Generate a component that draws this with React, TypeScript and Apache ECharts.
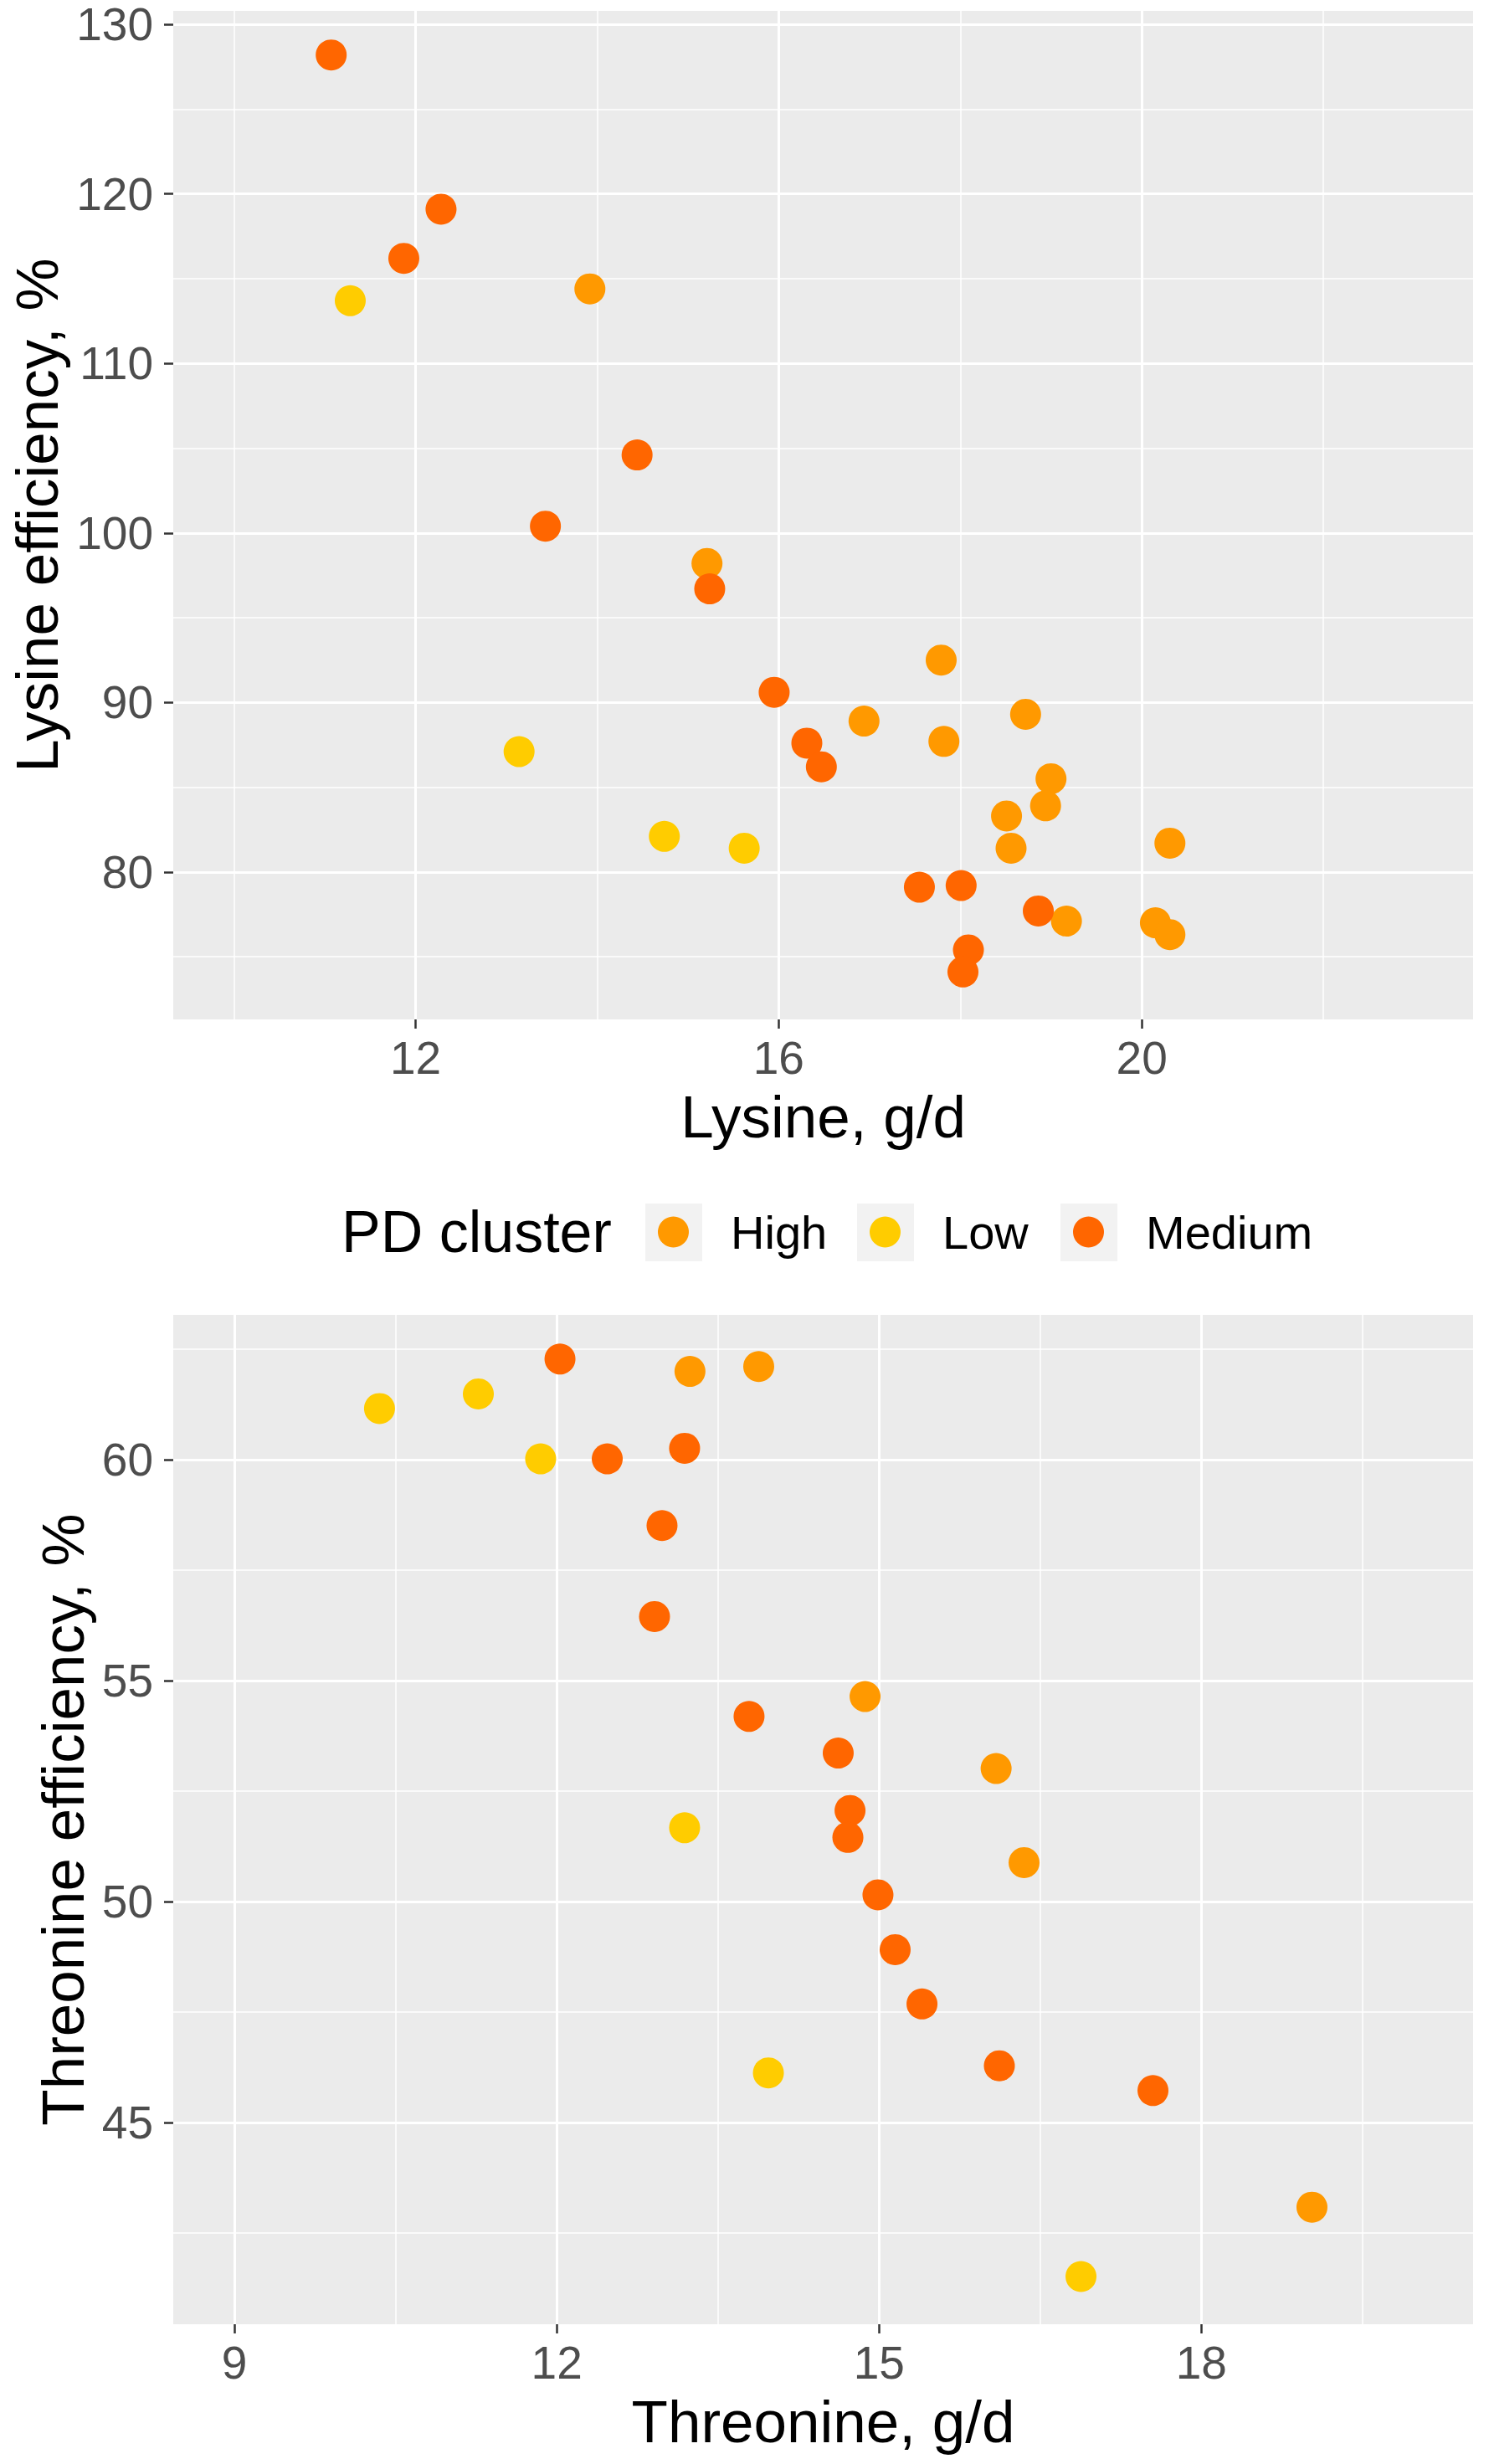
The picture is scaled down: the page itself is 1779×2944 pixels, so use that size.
import * as React from "react";
import * as echarts from "echarts";

// PD cluster colours
const HIGH = "#FF9900";
const LOW = "#FFCC00";
const MEDIUM = "#FF6600";
const FONT = "Liberation Sans, Arial, sans-serif";

const clusters = ["High", "Low", "Medium"];

// top panel: [lysine g/d, lysine efficiency %]
const lysineHigh: [number, number][] = [
  [13.92, 114.4], [15.21, 98.2], [17.79, 92.5], [16.94, 88.9], [17.82, 87.7],
  [18.72, 89.3], [19.0, 85.5], [18.94, 83.9], [18.51, 83.3], [18.56, 81.4],
  [20.31, 81.7], [19.17, 77.1], [20.15, 77.0], [20.31, 76.3],
];
const lysineLow: [number, number][] = [
  [11.28, 113.7], [13.14, 87.1], [14.74, 82.1], [15.62, 81.4],
];
const lysineMedium: [number, number][] = [
  [11.07, 128.2], [12.28, 119.1], [11.87, 116.2], [14.44, 104.6], [13.43, 100.4],
  [15.24, 96.7], [15.95, 90.6], [16.31, 87.6], [16.47, 86.2], [17.55, 79.1],
  [18.01, 79.2], [18.86, 77.7], [18.09, 75.4], [18.03, 74.1],
];

// bottom panel: [threonine g/d, threonine efficiency %]
const threonineHigh: [number, number][] = [
  [13.24, 62.0], [13.88, 62.11], [14.87, 54.64], [16.09, 53.01], [16.35, 50.88],
  [19.03, 43.08],
];
const threonineLow: [number, number][] = [
  [10.35, 61.16], [11.27, 61.49], [11.85, 60.02], [13.19, 51.67], [13.97, 46.12],
  [16.88, 41.51],
];
const threonineMedium: [number, number][] = [
  [12.03, 62.28], [12.47, 60.02], [13.19, 60.26], [12.98, 58.51], [12.91, 56.45],
  [13.79, 54.19], [14.62, 53.36], [14.73, 52.06], [14.71, 51.45], [14.99, 50.15],
  [15.15, 48.91], [15.4, 47.68], [16.12, 46.28], [17.55, 45.72],
];

// axis breaks
const lysXMajor = [12, 16, 20];
const lysXMinor = [10, 14, 18, 22];
const lysYMajor = [80, 90, 100, 110, 120, 130];
const lysYMinor = [75, 85, 95, 105, 115, 125];
const thrXMajor = [9, 12, 15, 18];
const thrXMinor = [10.5, 13.5, 16.5, 19.5];
const thrYMajor = [45, 50, 55, 60];
const thrYMinor = [42.5, 47.5, 52.5, 57.5, 62.5];

const gridLines = (xMaj: number[], xMin: number[], yMaj: number[], yMin: number[]) => ({
  silent: true,
  z: 1,
  symbol: ["none", "none"],
  label: { show: false },
  emphasis: { disabled: true },
  animation: false,
  data: [
    ...xMin.map((v) => ({ xAxis: v, lineStyle: { color: "#FFFFFF", width: 1.5, type: "solid" } })),
    ...yMin.map((v) => ({ yAxis: v, lineStyle: { color: "#FFFFFF", width: 1.5, type: "solid" } })),
    ...xMaj.map((v) => ({ xAxis: v, lineStyle: { color: "#FFFFFF", width: 3, type: "solid" } })),
    ...yMaj.map((v) => ({ yAxis: v, lineStyle: { color: "#FFFFFF", width: 3, type: "solid" } })),
  ],
});

const xAxisOf = (min: number, max: number, ticks: number[], name: string, gridIndex: number) => ({
  type: "value",
  gridIndex,
  min,
  max,
  name,
  nameLocation: "middle",
  nameGap: 81,
  nameTextStyle: { fontSize: 71, color: "#000000", fontFamily: FONT },
  axisLine: { show: false },
  axisTick: { show: true, length: 11, customValues: ticks, lineStyle: { color: "#333333", width: 2.5 } },
  axisLabel: { customValues: ticks, fontSize: 55, color: "#4D4D4D", margin: 18, fontFamily: FONT },
  splitLine: { show: false },
});

const yAxisOf = (min: number, max: number, ticks: number[], name: string, gridIndex: number, gap: number) => ({
  type: "value",
  gridIndex,
  min,
  max,
  name,
  nameLocation: "middle",
  nameGap: gap,
  nameTextStyle: { fontSize: 71, color: "#000000", fontFamily: FONT },
  axisLine: { show: false },
  axisTick: { show: true, length: 11, customValues: ticks, lineStyle: { color: "#333333", width: 2.5 } },
  axisLabel: { customValues: ticks, fontSize: 55, lineHeight: 50, color: "#4D4D4D", margin: 24, fontFamily: FONT },
  splitLine: { show: false },
});

const colors: Record<string, string> = { High: HIGH, Low: LOW, Medium: MEDIUM };

const keyCenters = [804, 1057, 1300];

export default function App() {
  const ref = React.useRef<HTMLDivElement | null>(null);

  React.useEffect(() => {
    if (!ref.current) return;
    const chart = echarts.init(ref.current, undefined, { renderer: "svg" });

    const scatter = (name: string, data: [number, number][], idx: number, markLine?: any) => ({
      type: "scatter",
      name,
      xAxisIndex: idx,
      yAxisIndex: idx,
      data,
      symbol: "circle",
      symbolSize: 37,
      z: 3,
      itemStyle: { color: colors[name], opacity: 1 },
      emphasis: { disabled: true },
      ...(markLine ? { markLine } : {}),
    });

    chart.setOption({
      animation: false,
      backgroundColor: "#FFFFFF",
      textStyle: { fontFamily: FONT },
      tooltip: { show: false },
      grid: [
        { left: 207, top: 13, width: 1553, height: 1205, show: true, backgroundColor: "#EBEBEB", borderWidth: 0 },
        { left: 207, top: 1571, width: 1553, height: 1206, show: true, backgroundColor: "#EBEBEB", borderWidth: 0 },
      ],
      xAxis: [
        xAxisOf(9.33, 23.65, lysXMajor, "Lysine, g/d", 0),
        xAxisOf(8.43, 20.53, thrXMajor, "Threonine, g/d", 1),
      ],
      yAxis: [
        yAxisOf(71.3, 130.8, lysYMajor, "Lysine efficiency, %", 0, 120),
        yAxisOf(40.43, 63.28, thrYMajor, "Threonine efficiency, %", 1, 94),
      ],
      legend: clusters.map((c, i) => ({
        data: [c],
        left: keyCenters[i] - 18,
        top: 1442,
        padding: 0,
        itemWidth: 37,
        itemHeight: 37,
        icon: "circle",
        selectedMode: false,
        textStyle: { fontSize: 56, color: "#000000", fontFamily: FONT, lineHeight: 60, padding: [0, 0, 0, 45] },
      })),
      graphic: [
        {
          type: "text",
          x: 408,
          y: 1472,
          style: { text: "PD cluster", fontSize: 70, fill: "#000000", fontFamily: FONT, verticalAlign: "middle" },
        },
        ...keyCenters.map((cx) => ({
          type: "rect",
          z: -1,
          shape: { x: cx - 33, y: 1438, width: 68, height: 69 },
          style: { fill: "#F2F2F2" },
        })),
      ],
      series: [
        scatter("High", lysineHigh, 0, gridLines(lysXMajor, lysXMinor, lysYMajor, lysYMinor)),
        scatter("Low", lysineLow, 0),
        scatter("Medium", lysineMedium, 0),
        scatter("High", threonineHigh, 1, gridLines(thrXMajor, thrXMinor, thrYMajor, thrYMinor)),
        scatter("Low", threonineLow, 1),
        scatter("Medium", threonineMedium, 1),
      ],
    });

    return () => chart.dispose();
  }, []);

  return (
    <div
      ref={ref}
      style={{ position: "absolute", left: 0, top: 0, width: 1779, height: 2944, background: "#FFFFFF" }}
    />
  );
}
